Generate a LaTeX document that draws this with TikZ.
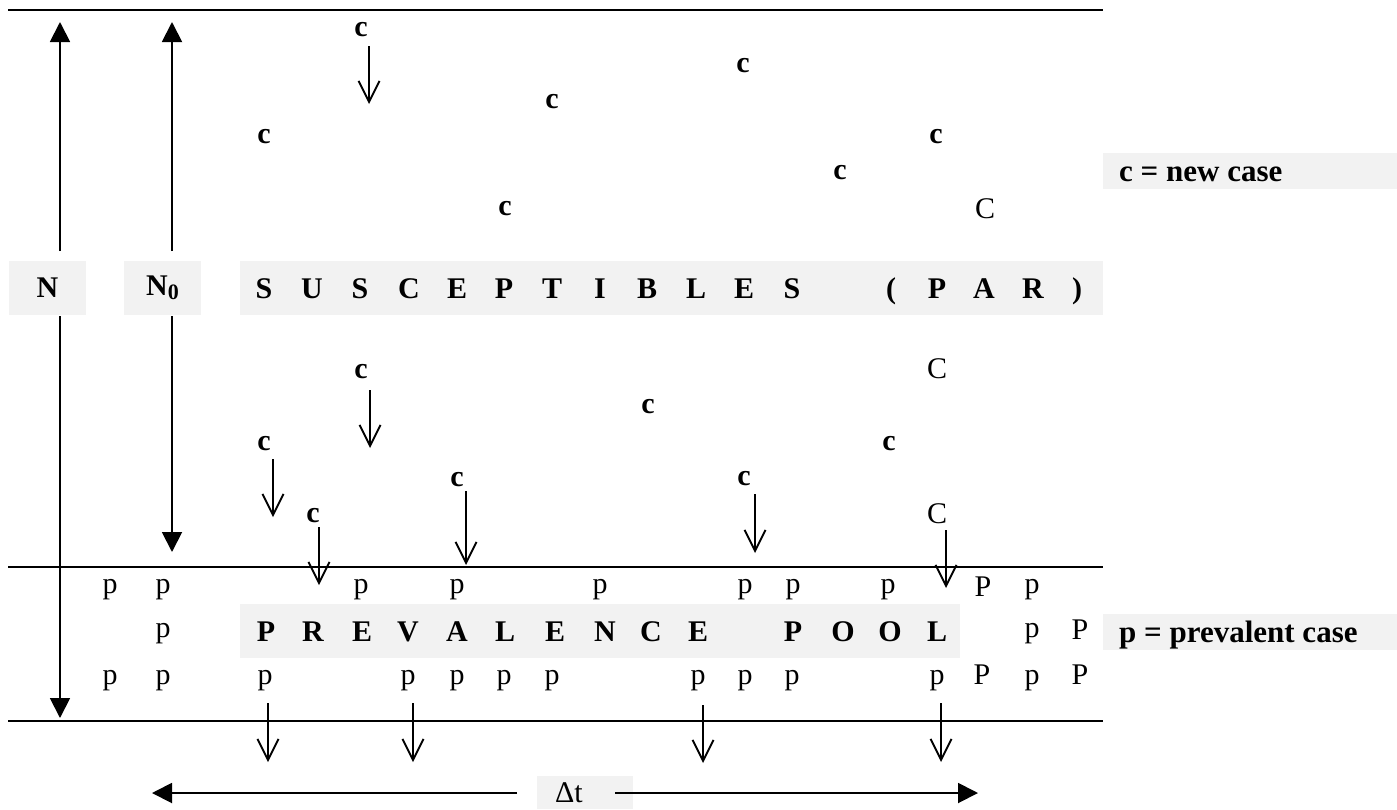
\documentclass[tikz,border=0pt]{standalone}
\usepackage{fontspec}
\setmainfont{Liberation Serif}
\usetikzlibrary{arrows.meta}
\definecolor{boxgray}{HTML}{F2F2F2}
\tikzset{
 hline/.style={line width=2.8pt},
 tri/.style={line width=1.9pt,-{Triangle[length=20pt,width=20pt]}},
 barb/.style={line width=1.9pt,-{Straight Barb[length=21pt,width=21pt]}},
 plab/.style={inner sep=0pt,font=\fontsize{30}{35}\selectfont},
 clab/.style={inner sep=0pt,font=\fontsize{30}{35}\selectfont\bfseries},
 blab/.style={inner sep=0pt,anchor=base,font=\fontsize{30}{35}\selectfont\bfseries},
 legt/.style={inner sep=0pt,anchor=base west,font=\fontsize{31}{36}\selectfont\bfseries},
 gbox/.style={fill=boxgray,draw=none,inner sep=0pt},
}
\begin{document}
\begin{tikzpicture}[x=1pt,y=-1pt]
\useasboundingbox (0,0) rectangle (1397,809);
% horizontal lines
\coordinate (L1a) at (8,10);  \coordinate (L1b) at (1103,10);
\coordinate (L2a) at (8,567); \coordinate (L2b) at (1103,567);
\coordinate (L3a) at (8,721); \coordinate (L3b) at (1103,721);
\draw[hline] (L1a) -- (L1b);
\draw[hline] (L2a) -- (L2b);
\draw[hline] (L3a) -- (L3b);
% grey boxes
\node[gbox,minimum width=77pt,minimum height=54pt,font=\fontsize{30}{35}\selectfont\bfseries] (Nbox) at (47.5,288) {N};
\node[gbox,minimum width=77pt,minimum height=54pt,font=\fontsize{30}{35}\selectfont\bfseries] (N0box) at (162.5,288) {N\raisebox{-0.3ex}{\fontsize{22}{22}\selectfont 0}};
\node[gbox,minimum width=863pt,minimum height=54pt] (susbox) at (671.5,288) {};
\node[gbox,minimum width=720pt,minimum height=54pt] (prevbox) at (600,631) {};
\node[gbox,minimum width=294pt,minimum height=36pt] (leg1) at (1250,171) {};
\node[gbox,minimum width=294pt,minimum height=36pt] (leg2) at (1250,632) {};
\node[gbox,minimum width=96pt,minimum height=33pt] (dtbox) at (585,792.5) {};
% legend texts
\node[legt] (leg1t) at (1119,181) {c = new case};
\node[legt] (leg2t) at (1119,642) {p = prevalent case};
\node[plab,anchor=west] (dt) at (555,793) {Δt};
% SUSCEPTIBLES (PAR)
\foreach \l/\x [count=\i] in {S/264,U/312,S/360,C/409,E/457,P/504,T/552,I/600,B/647,L/696,E/744,S/792,{(}/891,P/937,A/984,R/1033,{)}/1077}
  \node[blab] (sus\i) at (\x,298) {\l};
% PREVALENCE POOL
\foreach \l/\x [count=\i] in {P/266,R/313,E/362,V/408,A/457,L/505,E/555,N/605,C/651,E/698,P/793,O/843,O/890,L/937}
  \node[blab] (prv\i) at (\x,641) {\l};
% new cases c
\foreach \x/\y [count=\i] in {361/30,743/66,552/102,264/137,936/137,840/173,505/209,361/372,648/407,264/444,889/444,457/480,744/479,313/516}
  \node[clab] (c\i) at (\x,\y) {c};
\node[plab] (C1) at (985,209) {C};
\node[plab] (C2) at (937,369) {C};
\node[plab] (C3) at (937,514) {C};
% prevalent cases p
\foreach \x/\y [count=\i] in {110/590,163/590,361/590,457/590,600/590,745/590,793/590,888/590,1032/590,163/634,1032/634,110/681,163/681,265/681,408/681,457/681,504/681,552/681,698/681,745/681,792/681,937/681,1032/681}
  \node[plab] (p\i) at (\x,\y) {p};
\node[plab] (P1) at (983,587) {P};
\node[plab] (P2) at (1080,630) {P};
\node[plab] (P3) at (982,675) {P};
\node[plab] (P4) at (1080,675) {P};
% N and N0 arrows
\coordinate (Nup0) at (60,251);  \coordinate (Nup1) at (60,22);
\coordinate (Ndn0) at (60,316);  \coordinate (Ndn1) at (60,718);
\coordinate (Mup0) at (172,251); \coordinate (Mup1) at (172,22);
\coordinate (Mdn0) at (172,316); \coordinate (Mdn1) at (172,552);
\draw[tri] (Nup0) -- (Nup1);
\draw[tri] (Ndn0) -- (Ndn1);
\draw[tri] (Mup0) -- (Mup1);
\draw[tri] (Mdn0) -- (Mdn1);
% case arrows
\foreach \x/\ya/\yb [count=\i] in {369/46/104,370/390/448,273/459/517,319/527/585,466/491/565,755/494/553,946/530/588,268/703/762,413/703/762,703/705/763,941/703/762}{
  \coordinate (a\i s) at (\x,\ya);
  \coordinate (a\i e) at (\x,\yb);
  \draw[barb] (a\i s) -- (a\i e);
}
% delta t arrows
\coordinate (dtl0) at (517,793); \coordinate (dtl) at (152,793);
\coordinate (dtr0) at (615,793); \coordinate (dtr) at (978,793);
\draw[tri] (dtl0) -- (dtl);
\draw[tri] (dtr0) -- (dtr);
\end{tikzpicture}
\end{document}
